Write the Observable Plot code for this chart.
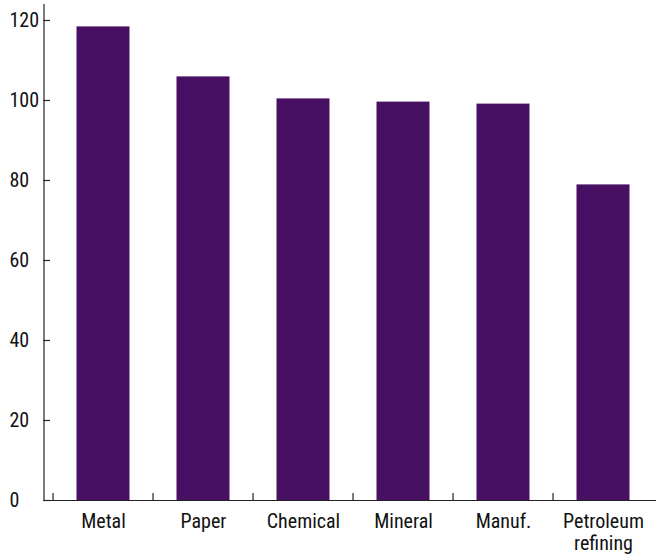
<!DOCTYPE html>
<html>
<head>
<meta charset="utf-8">
<script src="https://cdn.jsdelivr.net/npm/d3@7"></script>
<script src="https://cdn.jsdelivr.net/npm/@observablehq/plot@0.6"></script>
<style>
  html, body { margin: 0; padding: 0; background: #fff; }
  svg text { font-stretch: condensed; }
</style>
</head>
<body>
<div id="chart"></div>
<script>
const categories = ["Metal", "Paper", "Chemical", "Mineral", "Manuf.", "Petroleum refining"];
const values = [118.4, 105.9, 100.4, 99.6, 99.1, 78.9];
const yTicks = [0, 20, 40, 60, 80, 100, 120];

const data = categories.map((c, i) => ({category: c, value: values[i]}));
const barColor = "#481063";
const axisColor = "#222";
const W = 656, ML = 43.5, MR = 0, tickLen = 6.5;

const chart = Plot.plot({
  width: W,
  height: 554,
  marginLeft: ML,
  marginRight: MR,
  marginTop: 4,
  marginBottom: 54,
  style: "font-family: Roboto, sans-serif; font-stretch: condensed; font-size: 20px; color: #000; background: #fff;",
  x: {domain: categories, padding: 0, insetLeft: 7, axis: null, label: null},
  y: {domain: [0, 124], axis: null, label: null},
  marks: [
    Plot.barY(data, {x: "category", y: "value", fill: barColor, insetLeft: 23.5, insetRight: 23.5}),
    Plot.frame({anchor: "left", stroke: axisColor, strokeWidth: 1.2}),
    Plot.ruleY([0], {stroke: axisColor, strokeWidth: 1.2}),
    Plot.tickY(yTicks, {y: d => d, insetRight: W - ML - MR - tickLen, stroke: axisColor, strokeWidth: 1.2}),
    Plot.axisY(yTicks, {anchor: "left", label: null, tickSize: 0, tickPadding: 0, textAnchor: "start", dx: -34.5, fill: "#111", fontSize: 20}),
    Plot.ruleX(categories, {x: d => d, y1: 0, y2: 1.75, dx: -50.45, stroke: axisColor, strokeWidth: 1.2}),
    Plot.axisX({anchor: "bottom", label: null, tickSize: 0, tickPadding: 12, fontSize: 20, fill: "#111", lineHeight: 1.1,
      tickFormat: d => d.replace(" ", "\n")})
  ]
});
document.getElementById("chart").appendChild(chart);
</script>
</body>
</html>
